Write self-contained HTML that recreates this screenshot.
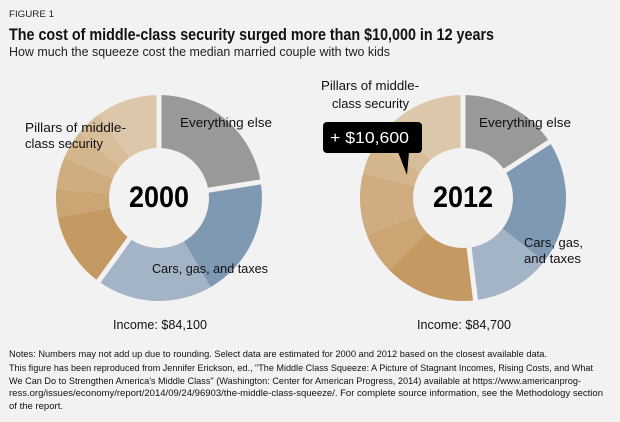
<!DOCTYPE html>
<html><head><meta charset="utf-8"><style>
html,body{margin:0;padding:0;background:#f2f2f2}
svg{display:block;font-family:"Liberation Sans",sans-serif}
</style></head><body>
<svg width="620" height="422" viewBox="0 0 620 422" xmlns="http://www.w3.org/2000/svg">
<rect width="620" height="422" fill="#f2f2f2"/>
<text x="9" y="17" font-size="9" fill="#222" textLength="45" lengthAdjust="spacingAndGlyphs">FIGURE 1</text>
<text x="9" y="40" font-size="17" font-weight="bold" fill="#111" textLength="485" lengthAdjust="spacingAndGlyphs">The cost of middle-class security surged more than $10,000 in 12 years</text>
<text x="9" y="56" font-size="13" fill="#222" textLength="381" lengthAdjust="spacingAndGlyphs">How much the squeeze cost the median married couple with two kids</text>

<g>
<path d="M159,198 L159,95 A103,103 0 0 1 260.7,181.9 Z" fill="#999999"/>
<path d="M159,198 L260.7,181.9 A103,103 0 0 1 210.5,287.2 Z" fill="#7f99b2"/>
<path d="M159,198 L210.5,287.2 A103,103 0 0 1 98.5,281.3 Z" fill="#a3b4c7"/>
<path d="M159,198 L98.5,281.3 A103,103 0 0 1 57.9,217.7 Z" fill="#c49a62"/>
<path d="M159,198 L57.9,217.7 A103,103 0 0 1 56.4,189 Z" fill="#cba574"/>
<path d="M159,198 L56.4,189 A103,103 0 0 1 64.2,157.8 Z" fill="#d0ad80"/>
<path d="M159,198 L64.2,157.8 A103,103 0 0 1 79,133.2 Z" fill="#d4b68d"/>
<path d="M159,198 L79,133.2 A103,103 0 0 1 98.5,114.7 Z" fill="#d7bd99"/>
<path d="M159,198 L98.5,114.7 A103,103 0 0 1 159,95 Z" fill="#dcc7aa"/>
<g stroke="#f2f2f2" stroke-width="5">
<line x1="159" y1="198" x2="159" y2="88"/>
<line x1="159" y1="198" x2="267.6" y2="180.8"/>
<line x1="159" y1="198" x2="94.3" y2="287"/>
</g>
<circle cx="159" cy="198" r="50" fill="#f2f2f2"/>

<path d="M463,198 L463,95 A103,103 0 0 1 549.4,141.9 Z" fill="#999999"/>
<path d="M463,198 L549.4,141.9 A103,103 0 0 1 544.2,261.4 Z" fill="#7f99b2"/>
<path d="M463,198 L544.2,261.4 A103,103 0 0 1 475.6,300.2 Z" fill="#a3b4c7"/>
<path d="M463,198 L475.6,300.2 A103,103 0 0 1 388.9,269.6 Z" fill="#c49a62"/>
<path d="M463,198 L388.9,269.6 A103,103 0 0 1 366.8,234.9 Z" fill="#cba574"/>
<path d="M463,198 L366.8,234.9 A103,103 0 0 1 363.1,173.1 Z" fill="#d0ad80"/>
<path d="M463,198 L363.1,173.1 A103,103 0 0 1 374.7,145 Z" fill="#d4b68d"/>
<path d="M463,198 L374.7,145 A103,103 0 0 1 395.4,120.3 Z" fill="#d7bd99"/>
<path d="M463,198 L395.4,120.3 A103,103 0 0 1 463,95 Z" fill="#dcc7aa"/>
<g stroke="#f2f2f2" stroke-width="5">
<line x1="463" y1="198" x2="463" y2="88"/>
<line x1="463" y1="198" x2="555.3" y2="138.1"/>
<line x1="463" y1="198" x2="476.4" y2="307.2"/>
</g>
<circle cx="463" cy="198" r="50" fill="#f2f2f2"/>
</g>

<text x="159" y="207" font-size="30" font-weight="bold" text-anchor="middle" fill="#000" textLength="60" lengthAdjust="spacingAndGlyphs">2000</text>
<text x="463" y="207" font-size="30" font-weight="bold" text-anchor="middle" fill="#000" textLength="60" lengthAdjust="spacingAndGlyphs">2012</text>
<g font-size="13" fill="#111">
<text x="25" y="132" textLength="101" lengthAdjust="spacingAndGlyphs">Pillars of middle-</text>
<text x="25" y="148" textLength="78" lengthAdjust="spacingAndGlyphs">class security</text>
<text x="180" y="127" textLength="92" lengthAdjust="spacingAndGlyphs">Everything else</text>
<text x="152" y="273" textLength="116" lengthAdjust="spacingAndGlyphs">Cars, gas, and taxes</text>
<text x="321" y="90" textLength="98" lengthAdjust="spacingAndGlyphs">Pillars of middle-</text>
<text x="332" y="108" textLength="77" lengthAdjust="spacingAndGlyphs">class security</text>
<text x="479" y="127" textLength="92" lengthAdjust="spacingAndGlyphs">Everything else</text>
<text x="524" y="247" textLength="59" lengthAdjust="spacingAndGlyphs">Cars, gas,</text>
<text x="524" y="263" textLength="57" lengthAdjust="spacingAndGlyphs">and taxes</text>
<text x="113" y="329" textLength="94" lengthAdjust="spacingAndGlyphs">Income: $84,100</text>
<text x="417" y="329" textLength="94" lengthAdjust="spacingAndGlyphs">Income: $84,700</text>
</g>
<rect x="323" y="122" width="99" height="31" rx="4" fill="#000"/>
<polygon points="398,152 409,152 407,175" fill="#000"/>
<text x="330" y="143" font-size="16" fill="#fff" textLength="79" lengthAdjust="spacingAndGlyphs">+ $10,600</text>
<g font-size="9.5" fill="#111">
<text x="9" y="357" textLength="538" lengthAdjust="spacingAndGlyphs">Notes: Numbers may not add up due to rounding. Select data are estimated for 2000 and 2012 based on the closest available data.</text>
<text x="9" y="371" textLength="584" lengthAdjust="spacingAndGlyphs">This figure has been reproduced from Jennifer Erickson, ed., "The Middle Class Squeeze: A Picture of Stagnant Incomes, Rising Costs, and What</text>
<text x="9" y="384" textLength="572" lengthAdjust="spacingAndGlyphs">We Can Do to Strengthen America's Middle Class" (Washington: Center for American Progress, 2014) available at https://www.americanprog-</text>
<text x="9" y="396" textLength="594" lengthAdjust="spacingAndGlyphs">ress.org/issues/economy/report/2014/09/24/96903/the-middle-class-squeeze/. For complete source information, see the Methodology section</text>
<text x="9" y="409" textLength="54" lengthAdjust="spacingAndGlyphs">of the report.</text>
</g>
</svg>
</body></html>
